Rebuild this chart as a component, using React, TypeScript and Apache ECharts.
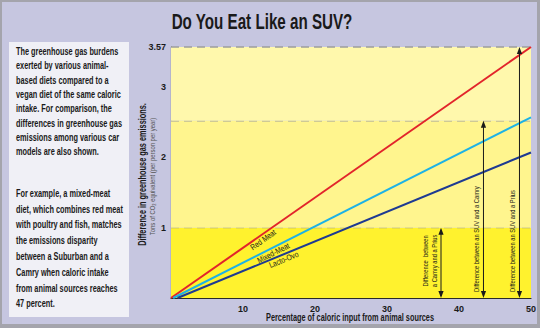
import React, { useEffect, useRef } from "react";
import * as echarts from "echarts";

const yTickLabels = [1, 2, 3, 3.57];

const lineNames = ["Red Meat", "Mixed-Meat", "Lacto-Ovo"];
const redMeat = [[0, 0], [50, 3.57]];
const mixedMeat = [[0.3, 0], [50, 2.57]];
const lactoOvo = [[0.9, 0], [50, 2.07]];

// emission bands (tons CO2e): [from, to]
const bands = [[0, 1], [1, 2.52], [2.52, 3.57]];

const gapNames = [
  "Difference  between\na Camry and a Prius",
  "Difference between an SUV and a Camry",
  "Difference between an SUV and a Prius",
];
const gapX = [37.5, 43.4, 48.4];
const gapValues = [1, 2.52, 3.57];

const titleText = "Do You Eat Like an SUV?";
const xTitle = "Percentage of caloric input from animal sources";
const yTitle = "Difference in greenhouse gas emissions.";
const ySubtitle = "Tons of CO₂ equivalent (per person per year)";

const para1 = [
  "The greenhouse gas burdens",
  "exerted by various animal-",
  "based diets compared to a",
  "vegan diet of the same caloric",
  "intake. For comparison, the",
  "differences in greenhouse gas",
  "emissions among various car",
  "models are also shown.",
];
const para2 = [
  "For example, a mixed-meat",
  "diet, which combines red meat",
  "with poultry and fish, matches",
  "the emissions disparity",
  "between a Suburban and a",
  "Camry when caloric intake",
  "from animal sources reaches",
  "47 percent.",
];

const FONT = "'Liberation Sans', Arial, sans-serif";
const GL = 171, GR = 9, GT = 47, GB = 30, W = 540, H = 328;

export default function App() {
  const ref = useRef<HTMLDivElement>(null);
  useEffect(() => {
    document.body.style.margin = "0";
    if (!ref.current) return;
    const chart = echarts.init(ref.current, undefined, { renderer: "svg" });
    const lines = [redMeat, mixedMeat, lactoOvo];
    const colors = ["#E2242B", "#1DB2E6", "#1E3A92"];
    const bandColors = ["#FFF22E", "#FFF58E", "#FFF8AC"];
    const cx = GL + (W - GL - GR) / 2;
    const cy = GT + (H - GT - GB) / 2;

    const option: any = {
      animation: false,
      backgroundColor: "#A4A4AC",
      textStyle: { fontFamily: FONT },
      graphic: [
        { type: "rect", shape: { x: 2, y: 2, width: 535, height: 322 }, style: { fill: "#C6C6E0" }, z: -10 },
        { type: "rect", shape: { x: 9, y: 42, width: 120, height: 275 }, style: { fill: "#F0F0F6" }, z: -9 },
        {
          type: "text", x: 262, y: 21, z: 5, scaleX: 0.69,
          style: { text: titleText, fontFamily: FONT, fontWeight: "bold", fontSize: 22, fill: "#1a1a1a", align: "center", verticalAlign: "middle" },
        },
        {
          type: "text", x: 16, y: 44.5, z: 5, scaleX: 0.7,
          style: { text: para1.join("\n"), fontFamily: FONT, fontWeight: "bold", fontSize: 10.5, lineHeight: 14.3, fill: "#1a1a1a", align: "left", verticalAlign: "top" },
        },
        {
          type: "text", x: 16, y: 185.5, z: 5, scaleX: 0.7,
          style: { text: para2.join("\n"), fontFamily: FONT, fontWeight: "bold", fontSize: 10.5, lineHeight: 15.8, fill: "#1a1a1a", align: "left", verticalAlign: "top" },
        },
        {
          type: "text", x: cx - 1, y: 318, z: 5, scaleX: 0.7,
          style: { text: xTitle, fontFamily: FONT, fontWeight: "bold", fontSize: 10.5, fill: "#1a1a1a", align: "center", verticalAlign: "middle" },
        },
        {
          type: "text", x: 143, y: cy + 2, z: 5, rotation: Math.PI / 2, scaleX: 0.7,
          style: { text: yTitle, fontFamily: FONT, fontWeight: "bold", fontSize: 10.5, fill: "#1a1a1a", align: "center", verticalAlign: "middle" },
        },
        {
          type: "text", x: 152.5, y: cy + 4, z: 5, rotation: Math.PI / 2, scaleX: 0.74,
          style: { text: ySubtitle, fontFamily: FONT, fontSize: 8, fill: "#555", align: "center", verticalAlign: "middle" },
        },
      ],
      grid: { left: GL, right: GR, top: GT, bottom: GB, containLabel: false },
      xAxis: {
        type: "value", min: 0, max: 50, interval: 10,
        axisLine: { show: true, lineStyle: { color: "#2a2a2a", width: 1.2 } },
        axisTick: { show: false },
        splitLine: { show: false },
        axisLabel: {
          color: "#1a1a1a", fontWeight: "bold", fontSize: 9, fontFamily: FONT, margin: 6,
          formatter: (v: number) => (v === 0 ? "" : String(v)),
        },
      },
      yAxis: {
        type: "value", min: 0, max: 3.57,
        axisLine: { show: true, lineStyle: { color: "#2a2a2a", width: 1.2 } },
        axisTick: { show: false },
        splitLine: { show: false },
        axisLabel: {
          customValues: yTickLabels,
          color: "#1a1a1a", fontWeight: "bold", fontSize: 9, fontFamily: FONT, margin: 5,
          formatter: (v: number) => String(v),
        },
      },
      series: [
        {
          type: "custom", name: "bands", z: 1, silent: true,
          data: bands.map((b, i) => [b[0], b[1], i]),
          encode: { y: [0, 1] },
          renderItem: (params: any, api: any) => {
            const lo = api.value(0), hi = api.value(1), i = api.value(2);
            const cs = params.coordSys;
            const yHi = api.coord([0, hi])[1];
            const yLo = api.coord([0, lo])[1];
            return {
              type: "group",
              children: [
                { type: "rect", shape: { x: cs.x, y: yHi, width: cs.width, height: yLo - yHi }, style: { fill: bandColors[i] } },
                { type: "line", shape: { x1: cs.x, y1: yHi, x2: cs.x + cs.width, y2: yHi }, style: { stroke: "#9d9d9d", lineWidth: 1.3, lineDash: [8, 5] } },
              ],
            };
          },
        },
        ...lines.map((d, i) => ({
          type: "line", name: lineNames[i], data: d, z: 3, symbol: "none", silent: true,
          lineStyle: { color: colors[i], width: 2 },
          itemStyle: { color: colors[i] },
        })),
        {
          type: "custom", name: "gaps", z: 4, silent: true,
          data: gapX.map((x, i) => [x, gapValues[i], i]),
          renderItem: (params: any, api: any) => {
            const x = api.value(0), v = api.value(1), i = api.value(2);
            const b = api.coord([x, 0]);
            const t = api.coord([x, v]);
            const px = b[0];
            const ah = 7, aw = 2.6;
            const isTwo = i === 0;
            const text = {
              type: "text",
              x: px - 2.5,
              y: isTwo ? (b[1] + t[1]) / 2 - 2 : b[1] - 6,
              rotation: Math.PI / 2,
              scaleX: 0.74,
              style: {
                text: gapNames[i], fontFamily: FONT, fontSize: 7.8, lineHeight: 9, fill: "#1a1a1a",
                align: isTwo ? "center" : "left", verticalAlign: "bottom",
              },
            };
            return {
              type: "group",
              children: [
                { type: "line", shape: { x1: px, y1: b[1] - 2, x2: px, y2: t[1] + 2 }, style: { stroke: "#1a1a1a", lineWidth: 1 } },
                { type: "polygon", shape: { points: [[px, t[1]], [px - aw, t[1] + ah], [px + aw, t[1] + ah]] }, style: { fill: "#1a1a1a" } },
                { type: "polygon", shape: { points: [[px, b[1]], [px - aw, b[1] - ah], [px + aw, b[1] - ah]] }, style: { fill: "#1a1a1a" } },
                text,
              ],
            };
          },
        },
        {
          type: "custom", name: "lineLabels", z: 5, silent: true,
          data: [[12.4, 0], [13.9, 1], [15.4, 2]],
          renderItem: (params: any, api: any) => {
            const lx = api.value(0), idx = api.value(1);
            const d = lines[idx];
            const p0 = api.coord(d[0]);
            const p1 = api.coord(d[1]);
            const a = Math.atan2(-(p1[1] - p0[1]), p1[0] - p0[0]);
            const yv = d[0][1] + (d[1][1] - d[0][1]) * (lx - d[0][0]) / (d[1][0] - d[0][0]);
            const p = api.coord([lx, yv]);
            const off = 5;
            return {
              type: "text",
              x: p[0] + Math.sin(a) * off,
              y: p[1] + Math.cos(a) * off,
              rotation: a,
              scaleX: 0.82,
              style: { text: lineNames[idx], fontFamily: FONT, fontSize: 8.2, fill: "#1a1a1a", align: "center", verticalAlign: "middle" },
            };
          },
        },
      ],
    };
    chart.setOption(option);
    return () => chart.dispose();
  }, []);
  return <div ref={ref} style={{ width: 540, height: 328 }} />;
}
